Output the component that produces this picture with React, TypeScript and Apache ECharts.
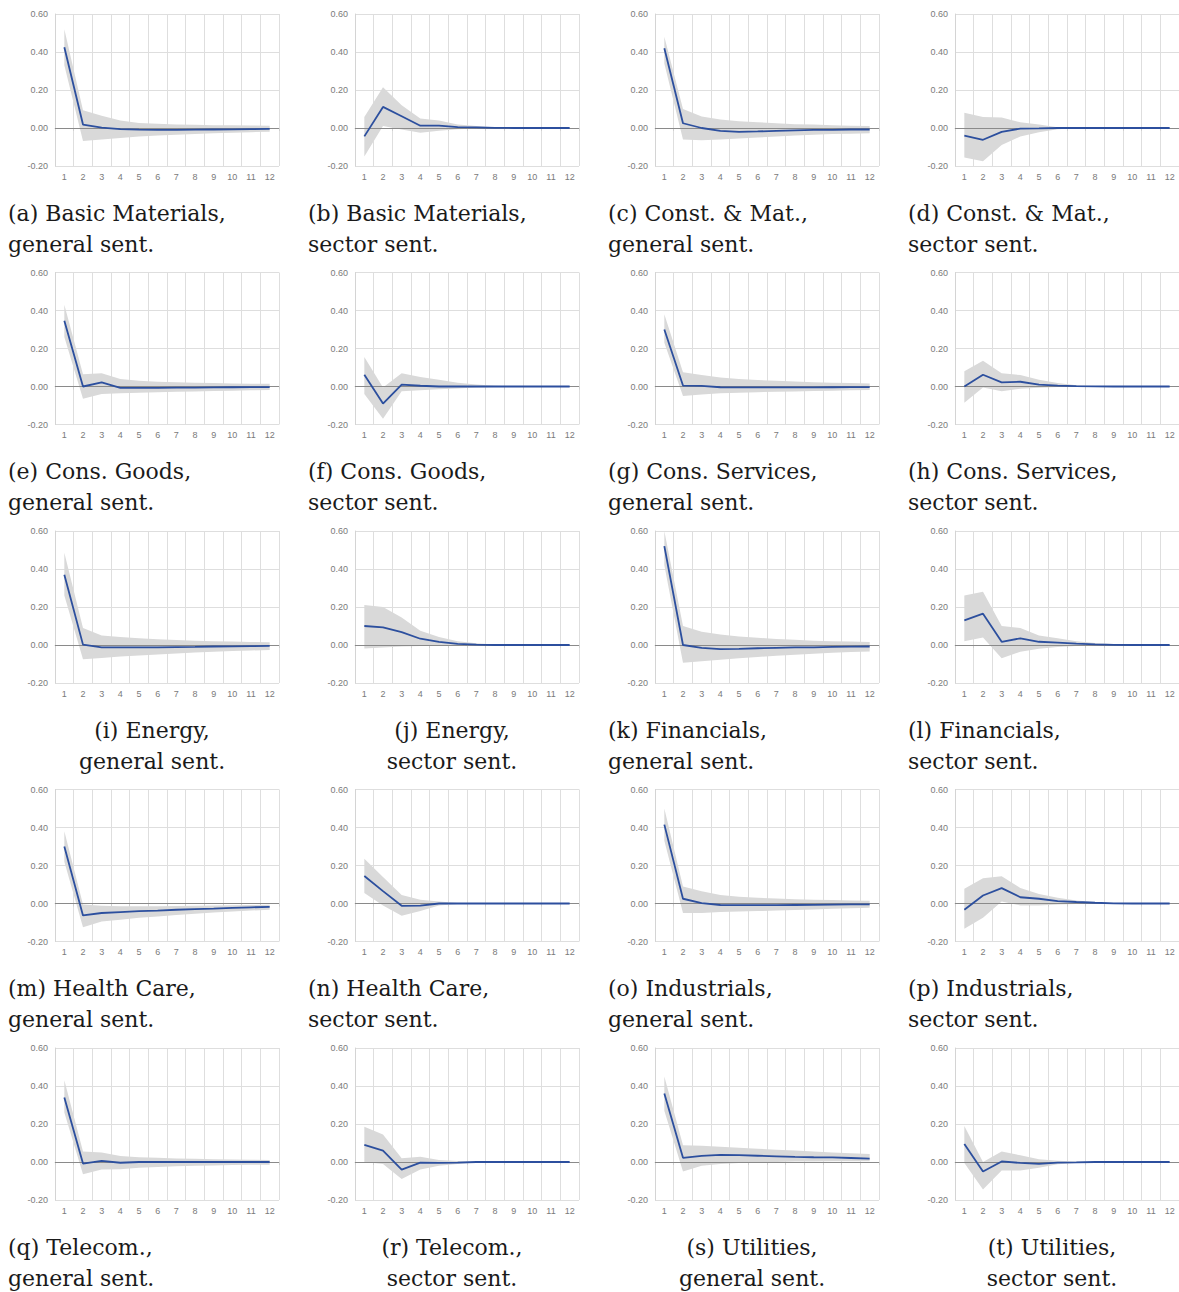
import React, { useEffect, useRef } from "react";
import * as echarts from "echarts";

const horizons = ["1", "2", "3", "4", "5", "6", "7", "8", "9", "10", "11", "12"];

const captionTop = [
  "(a) Basic Materials,", "(b) Basic Materials,", "(c) Const. & Mat.,", "(d) Const. & Mat.,",
  "(e) Cons. Goods,", "(f) Cons. Goods,", "(g) Cons. Services,", "(h) Cons. Services,",
  "(i) Energy,", "(j) Energy,", "(k) Financials,", "(l) Financials,",
  "(m) Health Care,", "(n) Health Care,", "(o) Industrials,", "(p) Industrials,",
  "(q) Telecom.,", "(r) Telecom.,", "(s) Utilities,", "(t) Utilities,",
];
const captionBottom = [
  "general sent.", "sector sent.", "general sent.", "sector sent.",
  "general sent.", "sector sent.", "general sent.", "sector sent.",
  "general sent.", "sector sent.", "general sent.", "sector sent.",
  "general sent.", "sector sent.", "general sent.", "sector sent.",
  "general sent.", "sector sent.", "general sent.", "sector sent.",
];
const captionCentered = [
  false, false, false, false,
  false, false, false, false,
  true, true, false, false,
  false, false, false, false,
  false, true, true, true,
];

// (a) Basic Materials, general
const aLine = [0.425, 0.018, 0.002, -0.006, -0.009, -0.01, -0.01, -0.009, -0.008, -0.007, -0.006, -0.005];
const aLo = [0.33, -0.068, -0.06, -0.052, -0.045, -0.04, -0.036, -0.032, -0.028, -0.025, -0.022, -0.02];
const aHi = [0.52, 0.094, 0.065, 0.04, 0.026, 0.022, 0.019, 0.017, 0.015, 0.014, 0.013, 0.012];
// (b) Basic Materials, sector
const bLine = [-0.044, 0.111, 0.062, 0.012, 0.013, 0.005, 0.003, 0.001, 0, 0, 0, 0];
const bLo = [-0.15, 0.01, -0.008, -0.025, -0.015, -0.006, -0.003, -0.001, 0, 0, 0, 0];
const bHi = [0.058, 0.215, 0.12, 0.05, 0.04, 0.018, 0.01, 0.004, 0.001, 0, 0, 0];
// (c) Const. & Mat., general
const cLine = [0.42, 0.025, 0.0, -0.015, -0.02, -0.018, -0.015, -0.012, -0.01, -0.01, -0.008, -0.008];
const cLo = [0.34, -0.06, -0.065, -0.06, -0.055, -0.05, -0.045, -0.04, -0.035, -0.032, -0.03, -0.028];
const cHi = [0.48, 0.1, 0.06, 0.045, 0.035, 0.03, 0.025, 0.02, 0.018, 0.015, 0.012, 0.01];
// (d) Const. & Mat., sector
const dLine = [-0.04, -0.062, -0.02, -0.003, -0.002, 0, 0, 0, 0, 0, 0, 0];
const dLo = [-0.155, -0.175, -0.09, -0.045, -0.022, -0.007, -0.001, 0, 0, 0, 0, 0];
const dHi = [0.08, 0.058, 0.055, 0.03, 0.018, 0.004, 0.001, 0, 0, 0, 0, 0];
// (e) Cons. Goods, general
const eLine = [0.346, 0.0, 0.022, -0.007, -0.007, -0.007, -0.006, -0.006, -0.005, -0.004, -0.003, -0.003];
const eLo = [0.26, -0.065, -0.04, -0.035, -0.033, -0.03, -0.028, -0.026, -0.024, -0.022, -0.02, -0.018];
const eHi = [0.43, 0.065, 0.07, 0.04, 0.03, 0.025, 0.022, 0.02, 0.018, 0.016, 0.015, 0.014];
// (f) Cons. Goods, sector
const fLine = [0.062, -0.09, 0.01, 0.004, 0.0, 0.0, 0.0, 0, 0, 0, 0, 0];
const fLo = [-0.04, -0.17, -0.025, -0.02, -0.014, -0.01, -0.005, -0.002, 0, 0, 0, 0];
const fHi = [0.155, -0.005, 0.07, 0.05, 0.035, 0.02, 0.01, 0.004, 0.001, 0, 0, 0];
// (g) Cons. Services, general
const gLine = [0.3, 0.005, 0.003, -0.004, -0.005, -0.005, -0.005, -0.005, -0.005, -0.004, -0.003, -0.003];
const gLo = [0.23, -0.05, -0.042, -0.036, -0.033, -0.03, -0.028, -0.026, -0.024, -0.022, -0.02, -0.019];
const gHi = [0.38, 0.075, 0.06, 0.048, 0.04, 0.034, 0.03, 0.026, 0.023, 0.02, 0.018, 0.016];
// (h) Cons. Services, sector
const hLine = [0.0, 0.062, 0.022, 0.025, 0.01, 0.005, 0.002, 0.001, 0, 0, 0, 0];
const hLo = [-0.085, -0.005, -0.025, -0.012, -0.006, -0.003, -0.001, 0, 0, 0, 0, 0];
const hHi = [0.08, 0.135, 0.07, 0.06, 0.035, 0.018, 0.006, 0.002, 0, 0, 0, 0];
// (i) Energy, general
const iLine = [0.37, 0.002, -0.012, -0.013, -0.013, -0.012, -0.011, -0.01, -0.008, -0.007, -0.006, -0.005];
const iLo = [0.26, -0.075, -0.068, -0.06, -0.055, -0.05, -0.045, -0.04, -0.036, -0.032, -0.029, -0.026];
const iHi = [0.485, 0.09, 0.05, 0.042, 0.036, 0.03, 0.026, 0.023, 0.02, 0.018, 0.016, 0.015];
// (j) Energy, sector
const jLine = [0.1, 0.093, 0.068, 0.033, 0.016, 0.006, 0.002, 0.0, 0, 0, 0, 0];
const jLo = [-0.018, -0.013, -0.008, -0.005, -0.003, -0.001, 0, 0, 0, 0, 0, 0];
const jHi = [0.21, 0.2, 0.145, 0.075, 0.042, 0.02, 0.009, 0.003, 0.001, 0, 0, 0];
// (k) Financials, general
const kLine = [0.52, 0.0, -0.015, -0.022, -0.02, -0.017, -0.015, -0.013, -0.012, -0.01, -0.009, -0.008];
const kLo = [0.42, -0.093, -0.085, -0.077, -0.07, -0.063, -0.057, -0.051, -0.046, -0.041, -0.037, -0.034];
const kHi = [0.6, 0.1, 0.07, 0.055, 0.045, 0.038, 0.032, 0.027, 0.023, 0.02, 0.018, 0.016];
// (l) Financials, sector
const lLine = [0.13, 0.165, 0.017, 0.035, 0.017, 0.012, 0.007, 0.003, 0.001, 0, 0, 0];
const lLo = [0.02, 0.04, -0.07, -0.035, -0.02, -0.01, -0.005, -0.002, -0.001, 0, 0, 0];
const lHi = [0.26, 0.28, 0.1, 0.09, 0.05, 0.035, 0.02, 0.01, 0.005, 0.002, 0.001, 0];
// (m) Health Care, general
const mLine = [0.3, -0.063, -0.05, -0.045, -0.04, -0.037, -0.033, -0.03, -0.027, -0.023, -0.02, -0.018];
const mLo = [0.22, -0.125, -0.095, -0.085, -0.075, -0.068, -0.06, -0.054, -0.048, -0.042, -0.037, -0.033];
const mHi = [0.38, -0.005, -0.012, -0.015, -0.015, -0.014, -0.013, -0.012, -0.011, -0.009, -0.008, -0.007];
// (n) Health Care, sector
const nLine = [0.145, 0.065, -0.012, -0.011, 0.0, 0.0, 0, 0, 0, 0, 0, 0];
const nLo = [0.055, -0.01, -0.065, -0.04, -0.01, -0.003, 0, 0, 0, 0, 0, 0];
const nHi = [0.235, 0.14, 0.045, 0.02, 0.01, 0.003, 0.001, 0, 0, 0, 0, 0];
// (o) Industrials, general
const oLine = [0.415, 0.025, 0.002, -0.008, -0.009, -0.009, -0.009, -0.008, -0.007, -0.006, -0.005, -0.005];
const oLo = [0.33, -0.05, -0.05, -0.045, -0.042, -0.04, -0.037, -0.034, -0.031, -0.028, -0.025, -0.022];
const oHi = [0.5, 0.09, 0.065, 0.045, 0.035, 0.03, 0.026, 0.023, 0.02, 0.018, 0.016, 0.015];
// (p) Industrials, sector
const pLine = [-0.033, 0.042, 0.081, 0.033, 0.025, 0.013, 0.008, 0.004, 0.001, 0, 0, 0];
const pLo = [-0.133, -0.075, 0.01, -0.01, -0.01, -0.005, -0.003, -0.001, 0, 0, 0, 0];
const pHi = [0.077, 0.133, 0.144, 0.082, 0.05, 0.03, 0.016, 0.008, 0.003, 0.001, 0, 0];
// (q) Telecom., general
const qLine = [0.34, -0.008, 0.006, -0.004, 0.0, 0.0, 0.0, 0.0, 0.0, 0.0, 0.0, 0.0];
const qLo = [0.26, -0.065, -0.04, -0.038, -0.03, -0.026, -0.023, -0.02, -0.018, -0.016, -0.015, -0.014];
const qHi = [0.43, 0.055, 0.05, 0.032, 0.025, 0.022, 0.019, 0.017, 0.015, 0.013, 0.012, 0.011];
// (r) Telecom., sector
const rLine = [0.09, 0.06, -0.04, -0.003, -0.005, -0.003, 0.0, 0, 0, 0, 0, 0];
const rLo = [0.0, -0.01, -0.09, -0.04, -0.02, -0.01, -0.003, 0, 0, 0, 0, 0];
const rHi = [0.185, 0.145, 0.02, 0.028, 0.01, 0.005, 0.001, 0, 0, 0, 0, 0];
// (s) Utilities, general
const sLine = [0.36, 0.022, 0.032, 0.038, 0.036, 0.033, 0.03, 0.027, 0.025, 0.024, 0.021, 0.018];
const sLo = [0.27, -0.05, -0.02, -0.01, -0.005, -0.002, 0.0, 0.002, 0.003, 0.004, 0.004, 0.004];
const sHi = [0.45, 0.088, 0.085, 0.08, 0.075, 0.07, 0.065, 0.06, 0.055, 0.05, 0.046, 0.042];
// (t) Utilities, sector
const tLine = [0.095, -0.05, 0.003, -0.005, -0.01, -0.003, -0.002, 0.0, 0, 0, 0, 0];
const tLo = [-0.005, -0.145, -0.045, -0.045, -0.03, -0.012, -0.005, -0.001, 0, 0, 0, 0];
const tHi = [0.19, 0.0, 0.055, 0.035, 0.015, 0.007, 0.002, 0, 0, 0, 0, 0];

const panels = [
  [aLine, aLo, aHi], [bLine, bLo, bHi], [cLine, cLo, cHi], [dLine, dLo, dHi],
  [eLine, eLo, eHi], [fLine, fLo, fHi], [gLine, gLo, gHi], [hLine, hLo, hHi],
  [iLine, iLo, iHi], [jLine, jLo, jHi], [kLine, kLo, kHi], [lLine, lLo, lHi],
  [mLine, mLo, mHi], [nLine, nLo, nHi], [oLine, oLo, oHi], [pLine, pLo, pHi],
  [qLine, qLo, qHi], [rLine, rLo, rHi], [sLine, sLo, sHi], [tLine, tLo, tHi],
];

const COL_PITCH = 300;
const ROW_PITCH = 258.5;

function buildOption() {
  const grid: any[] = [];
  const xAxis: any[] = [];
  const yAxis: any[] = [];
  const series: any[] = [];
  const graphic: any[] = [];
  const tickFont = { fontSize: 9, color: "#7a7a7a", fontFamily: "Liberation Sans, Arial, sans-serif" };

  panels.forEach(([line, lo, hi], k) => {
    const row = Math.floor(k / 4);
    const col = k % 4;
    grid.push({
      left: 55 + COL_PITCH * col,
      top: 14 + ROW_PITCH * row,
      width: 224,
      height: 152,
      containLabel: false,
    });
    xAxis.push({
      type: "category",
      gridIndex: k,
      data: horizons,
      boundaryGap: true,
      axisLine: { show: true, lineStyle: { color: "#d4d4d4", width: 1 } },
      axisTick: { show: true, length: 3, lineStyle: { color: "#cfcfcf" } },
      axisLabel: { ...tickFont, margin: 6, interval: 0 },
      splitLine: { show: true, lineStyle: { color: "#dedede", width: 1 } },
    });
    yAxis.push({
      type: "value",
      gridIndex: k,
      min: -0.2,
      max: 0.6,
      interval: 0.2,
      axisLine: { show: true, lineStyle: { color: "#d4d4d4", width: 1 } },
      axisTick: { show: false },
      axisLabel: {
        ...tickFont,
        margin: 7,
        formatter: (v: number) => (Math.abs(v) < 1e-9 ? 0 : v).toFixed(2),
      },
      splitLine: { show: true, lineStyle: { color: "#dedede", width: 1 } },
    });
    const stackId = "band" + k;
    series.push({
      type: "line",
      xAxisIndex: k,
      yAxisIndex: k,
      data: lo,
      stack: stackId,
      stackStrategy: "all",
      symbol: "none",
      silent: true,
      lineStyle: { opacity: 0 },
      z: 2,
    });
    series.push({
      type: "line",
      xAxisIndex: k,
      yAxisIndex: k,
      data: hi.map((h, i) => h - lo[i]),
      stack: stackId,
      stackStrategy: "all",
      symbol: "none",
      silent: true,
      lineStyle: { opacity: 0 },
      areaStyle: { color: "#d9d9d9", opacity: 1 },
      z: 2,
      markLine: {
        silent: true,
        symbol: "none",
        label: { show: false },
        lineStyle: { color: "#8a8a8a", width: 1, type: "solid" },
        data: [{ yAxis: 0 }],
      },
    });
    series.push({
      type: "line",
      xAxisIndex: k,
      yAxisIndex: k,
      data: line,
      symbol: "none",
      silent: true,
      lineStyle: { color: "#2c4f9e", width: 1.8 },
      z: 5,
    });

    const centered = captionCentered[k];
    const x = centered ? 152 + COL_PITCH * col : 8 + COL_PITCH * col;
    const y1 = 213 + ROW_PITCH * row;
    const y2 = 244 + ROW_PITCH * row;
    [
      [captionTop[k], y1],
      [captionBottom[k], y2],
    ].forEach(([txt, y]) => {
      graphic.push({
        type: "text",
        x,
        y: y as number,
        silent: true,
        style: {
          text: txt as string,
          fontSize: 22,
          fontFamily: "DejaVu Serif, serif",
          fill: "#1a1a1a",
          textAlign: centered ? "center" : "left",
          textVerticalAlign: "middle",
        },
      });
    });
  });

  return {
    animation: false,
    backgroundColor: "#ffffff",
    grid,
    xAxis,
    yAxis,
    series,
    graphic,
  };
}

export default function App() {
  const ref = useRef<HTMLDivElement>(null);
  useEffect(() => {
    if (!ref.current) return;
    const chart = echarts.init(ref.current, undefined, { renderer: "svg" });
    chart.setOption(buildOption() as any);
    return () => chart.dispose();
  }, []);
  return (
    <div
      ref={ref}
      style={{ position: "absolute", left: 0, top: 0, width: 1179, height: 1292, background: "#fff" }}
    />
  );
}
